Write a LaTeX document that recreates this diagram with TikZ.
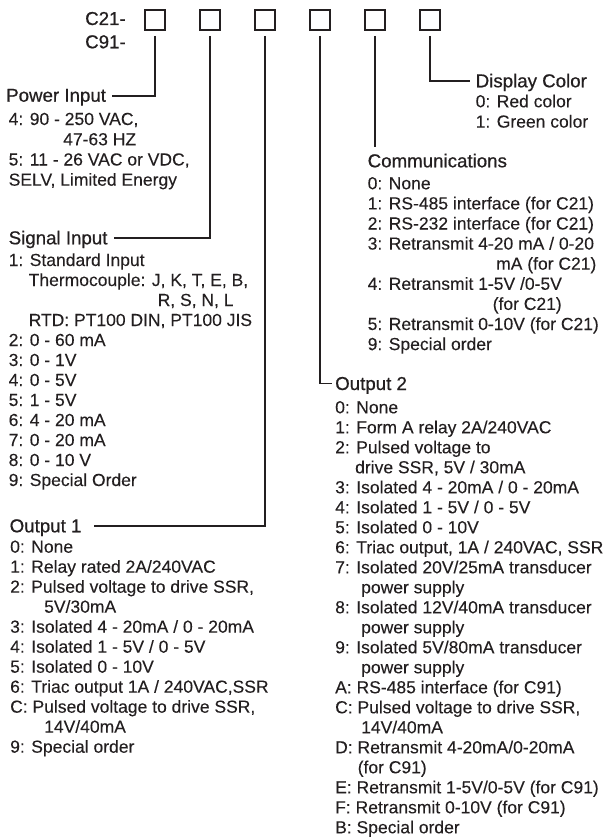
\documentclass[tikz,border=0pt]{standalone}
\usepackage{fontspec}
\setmainfont[FakeBold=0.15]{Liberation Sans}
\newfontfamily\headfont[FakeBold=0.7]{Liberation Sans}
\definecolor{ink}{HTML}{231F20}
\begin{document}
\begin{tikzpicture}[x=1pt,y=-1pt,
  item/.style={anchor=base west, inner sep=0pt, text=ink, font=\fontsize{17.5}{20}\selectfont},
  head/.style={anchor=base west, inner sep=0pt, text=ink, font=\headfont\fontsize{18.7}{20}\selectfont},
  digit/.style={draw=ink, line width=1.7pt, minimum size=20pt, inner sep=0pt},
  lead/.style={draw=ink, line width=1.7pt}]
\useasboundingbox (0,0) rectangle (609,840);

% code boxes
\node[digit] (b1) at (155,20) {};
\node[digit] (b2) at (210,20) {};
\node[digit] (b3) at (265,20) {};
\node[digit] (b4) at (320,20) {};
\node[digit] (b5) at (375,20) {};
\node[digit] (b6) at (430,20) {};
\node[head] (c21) at (85,25) {C21-};
\node[head] (c91) at (85,48.3) {C91-};

% Power input
\node[head] (pw) at (6,101.7) {Power Input};
\node[item] (pw1) at (8.5,125) {4: 90 - 250 VAC,};
\node[item] (pw2) at (63,145.3) {47-63 HZ};
\node[item] (pw3) at (8.5,165.5) {5: 11 - 26 VAC or VDC,};
\node[item] (pw4) at (8.5,185.7) {SELV, Limited Energy};

% Signal input
\node[head] (si) at (8.5,244.3) {Signal Input};
\node[item] (si1) at (8.5,266) {1: Standard Input};
\node[item] (si2) at (28.5,286) {Thermocouple: J, K, T, E, B,};
\node[item] (si3) at (157.5,306) {R, S, N, L};
\node[item] (si4) at (28.5,326) {RTD: PT100 DIN, PT100 JIS};
\node[item] (si5) at (8.5,346) {2: 0 - 60 mA};
\node[item] (si6) at (8.5,366) {3: 0 - 1V};
\node[item] (si7) at (8.5,386) {4: 0 - 5V};
\node[item] (si8) at (8.5,406) {5: 1 - 5V};
\node[item] (si9) at (8.5,426) {6: 4 - 20 mA};
\node[item] (si10) at (8.5,446) {7: 0 - 20 mA};
\node[item] (si11) at (8.5,466) {8: 0 - 10 V};
\node[item] (si12) at (8.5,486) {9: Special Order};

% Output 1
\node[head] (oa) at (9.5,532.3) {Output 1};
\node[item] (oa1) at (10,552.7) {0: None};
\node[item] (oa2) at (10,572.7) {1: Relay rated 2A/240VAC};
\node[item] (oa3) at (10,592.7) {2: Pulsed voltage to drive SSR,};
\node[item] (oa4) at (44,612.7) {5V/30mA};
\node[item] (oa5) at (10,632.7) {3: Isolated 4 - 20mA / 0 - 20mA};
\node[item] (oa6) at (10,652.7) {4: Isolated 1 - 5V / 0 - 5V};
\node[item] (oa7) at (10,672.7) {5: Isolated 0 - 10V};
\node[item] (oa8) at (10,692.7) {6: Triac output 1A / 240VAC,SSR};
\node[item] (oa9) at (10,712.7) {C: Pulsed voltage to drive SSR,};
\node[item] (oa10) at (44,732.7) {14V/40mA};
\node[item] (oa11) at (10,752.7) {9: Special order};

% Display color
\node[head] (dc) at (475.5,87.3) {Display Color};
\node[item] (dc1) at (475.5,107.3) {0: Red color};
\node[item] (dc2) at (475.5,127.6) {1: Green color};

% Communications
\node[head] (cm) at (367.5,167.3) {Communications};
\node[item] (cm1) at (367.5,189.3) {0: None};
\node[item] (cm2) at (367.5,209.4) {1: RS-485 interface (for C21)};
\node[item] (cm3) at (367.5,229.5) {2: RS-232 interface (for C21)};
\node[item] (cm4) at (367.5,249.6) {3: Retransmit 4-20 mA / 0-20};
\node[item] (cm5) at (496,269.7) {mA (for C21)};
\node[item] (cm6) at (367.5,289.8) {4: Retransmit 1-5V /0-5V};
\node[item] (cm7) at (492.5,309.9) {(for C21)};
\node[item] (cm8) at (367.5,330) {5: Retransmit 0-10V (for C21)};
\node[item] (cm9) at (367.5,350.1) {9: Special order};

% Output 2
\node[head] (ob) at (335,390) {Output 2};
\node[item] (ob1) at (335,413.3) {0: None};
\node[item] (ob2) at (335,433.3) {1: Form A relay 2A/240VAC};
\node[item] (ob3) at (335,453.3) {2: Pulsed voltage to};
\node[item] (ob4) at (355,473.3) {drive SSR, 5V / 30mA};
\node[item] (ob5) at (335,493.3) {3: Isolated 4 - 20mA / 0 - 20mA};
\node[item] (ob6) at (335,513.3) {4: Isolated 1 - 5V / 0 - 5V};
\node[item] (ob7) at (335,533.3) {5: Isolated 0 - 10V};
\node[item] (ob8) at (335,553.3) {6: Triac output, 1A / 240VAC, SSR};
\node[item] (ob9) at (335,573.3) {7: Isolated 20V/25mA transducer};
\node[item] (ob10) at (361,593.3) {power supply};
\node[item] (ob11) at (335,613.3) {8: Isolated 12V/40mA transducer};
\node[item] (ob12) at (361,633.3) {power supply};
\node[item] (ob13) at (335,653.3) {9: Isolated 5V/80mA transducer};
\node[item] (ob14) at (361,673.3) {power supply};
\node[item] (ob15) at (335,693.3) {A: RS-485 interface (for C91)};
\node[item] (ob16) at (335,713.3) {C: Pulsed voltage to drive SSR,};
\node[item] (ob17) at (361,733.3) {14V/40mA};
\node[item] (ob18) at (335,753.3) {D: Retransmit 4-20mA/0-20mA};
\node[item] (ob19) at (357.5,773.3) {(for C91)};
\node[item] (ob20) at (335,793.3) {E: Retransmit 1-5V/0-5V (for C91)};
\node[item] (ob21) at (335,813.3) {F: Retransmit 0-10V (for C91)};
\node[item] (ob22) at (335,833.3) {B: Special order};

% leader lines
\draw[lead] ([yshift=-5pt]b1.south) |- ([xshift=6pt,yshift=5.5pt]pw.base east);
\draw[lead] ([yshift=-5pt]b2.south) |- ([xshift=6pt,yshift=6.5pt]si.base east);
\draw[lead] ([yshift=-5pt]b3.south) |- ([xshift=12pt,yshift=6.5pt]oa.base east);
\draw[lead] ([yshift=-5pt]b4.south) |- ([xshift=-3pt,yshift=6.5pt]ob.base west);
\draw[lead] ([yshift=-5pt]b5.south) -- ([yshift=7pt]b5.south |- cm.north);
\draw[lead] ([yshift=-5pt]b6.south) |- ([xshift=-6pt,yshift=6.5pt]dc.base west);
\end{tikzpicture}
\end{document}
